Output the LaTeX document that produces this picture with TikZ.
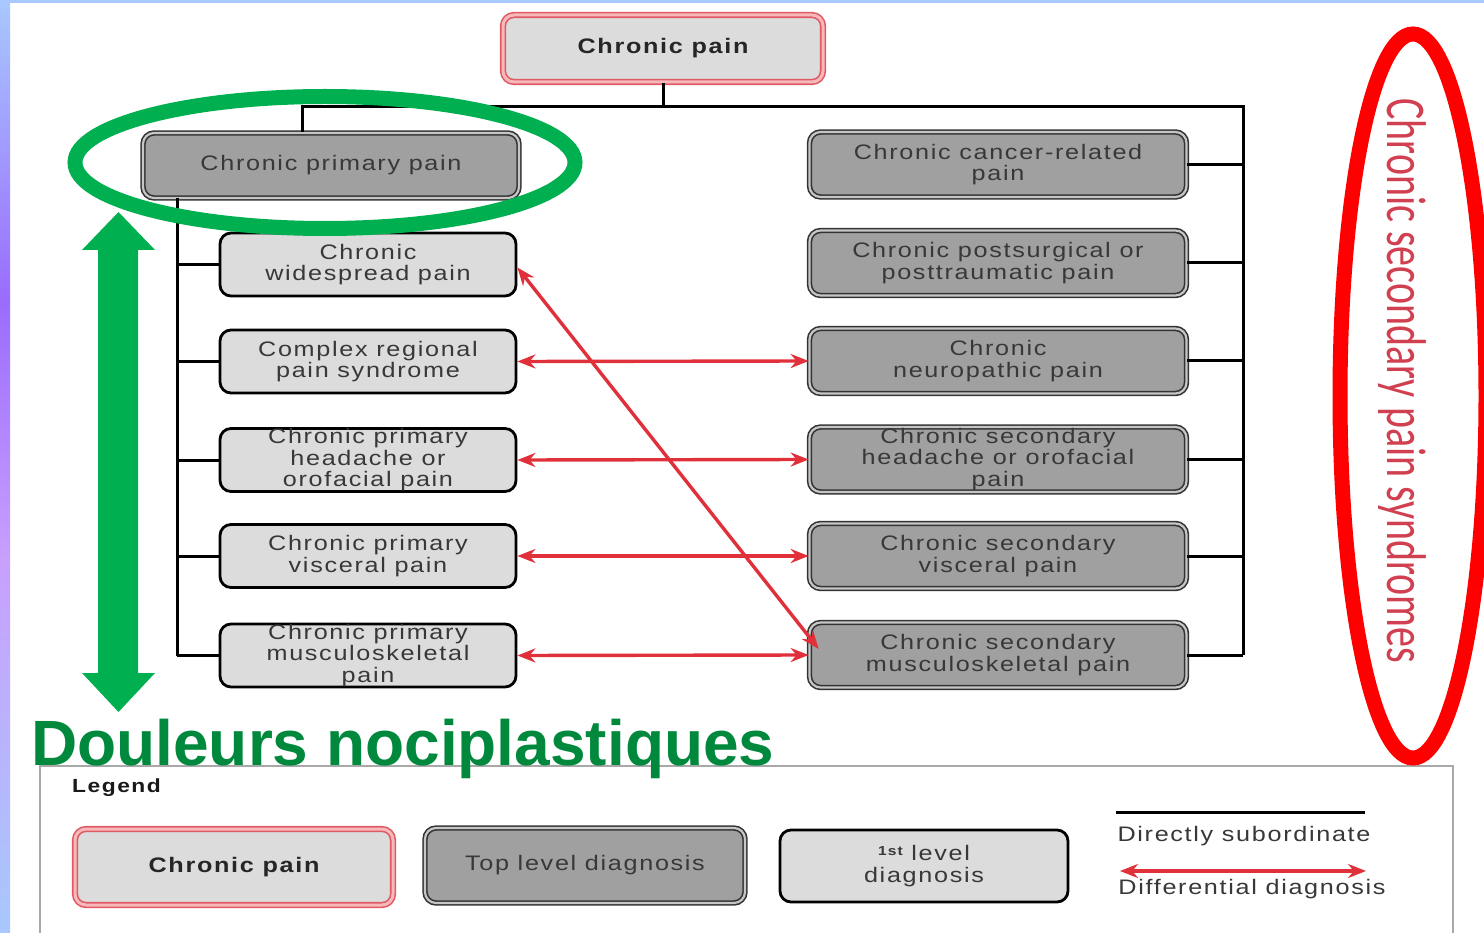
\documentclass[tikz,border=0pt]{standalone}
\usepackage{fontspec}
\setmainfont{Liberation Sans}
\newfontfamily\boxfont[LetterSpace=8,FakeStretch=1.2]{Liberation Sans}
\newfontfamily\calfont{Carlito}
\usetikzlibrary{arrows.meta,shapes.geometric}
\definecolor{lgray}{HTML}{DCDCDC}
\definecolor{dgray}{HTML}{A0A0A0}
\definecolor{txtgray}{HTML}{383838}
\definecolor{redline}{HTML}{E0303A}
\definecolor{pbord}{HTML}{E05A64}
\definecolor{pinkgap}{HTML}{F7B8BC}
\definecolor{grn}{HTML}{00B050}
\definecolor{grntxt}{HTML}{00893C}
\definecolor{vred}{HTML}{D04050}
\definecolor{ellred}{HTML}{FF0000}
\definecolor{stripblue}{HTML}{A8C8FF}
\definecolor{strippurple}{HTML}{9A6CFF}
\definecolor{striplilac}{HTML}{C8A0FF}
\definecolor{legline}{HTML}{A8A8A8}
\begin{document}
\begin{tikzpicture}[x=1pt,y=-1pt,
  boxtxt/.style={font=\boxfont\fontsize{21}{21.5}\selectfont, text=txtgray, align=center},
  rootbox/.style={draw=pbord, double=pinkgap, double distance=3pt, line width=1.6pt, fill=lgray, rounded corners=11pt, inner sep=0pt, font=\boxfont\bfseries\fontsize{21}{22}\selectfont, text=black!85},
  topbox/.style={draw=black!80, double=gray!45, double distance=2.2pt, line width=1.6pt, fill=dgray, rounded corners=11pt, inner sep=0pt, boxtxt},
  firstbox/.style={draw=black, line width=2.8pt, fill=lgray, rounded corners=11pt, inner sep=0pt, boxtxt},
  sub/.style={draw=black, line width=3pt},
  diff/.style={draw=redline, line width=3.4pt, {Stealth[length=18pt,width=14pt]}-{Stealth[length=18pt,width=14pt]}},
  lefts/.style={firstbox, minimum width=296pt, minimum height=63pt},
  rights/.style={topbox, minimum width=377pt, minimum height=65pt},
  legtxt/.style={font=\boxfont\fontsize{21}{22}\selectfont, text=txtgray},
]
% background and bounding box
\fill[white] (0,0) rectangle (1484,933);
\useasboundingbox (0,0) rectangle (1484,933);
\fill[stripblue] (0,0) rectangle (1484,3);
\shade[top color=stripblue, bottom color=strippurple] (0,0) rectangle (10,300);
\shade[top color=strippurple, bottom color=striplilac] (0,300) rectangle (10,560);
\shade[top color=striplilac, bottom color=stripblue] (0,560) rectangle (10,933);

% legend frame
\draw[legline, line width=2pt] (40,945) -- (40,766) -- (1453,766) -- (1453,945);

% main nodes
\node[rootbox, minimum width=320pt, minimum height=67pt] (cp) at (663,48.5) {Chronic pain};
\node[topbox, minimum width=376pt, minimum height=65pt] (prim) at (331,165.5) {Chronic primary pain};

\node[lefts] (wide) at (368,264.5) {Chronic\\widespread pain};
\node[lefts] (crps) at (368,361.5) {Complex regional\\pain syndrome};
\node[lefts] (phead) at (368,460) {Chronic primary\\headache or\\orofacial pain};
\node[lefts] (pvisc) at (368,556) {Chronic primary\\visceral pain};
\node[lefts] (pmsk) at (368,655.5) {Chronic primary\\musculoskeletal\\pain};

\node[rights] (canc) at (998,164.5) {Chronic cancer-related\\pain};
\node[rights] (post) at (998,263) {Chronic postsurgical or\\posttraumatic pain};
\node[rights] (neuro) at (998,361) {Chronic\\neuropathic pain};
\node[rights] (shead) at (998,459.5) {Chronic secondary\\headache or orofacial\\pain};
\node[rights] (svisc) at (998,556) {Chronic secondary\\visceral pain};
\node[rights] (smsk) at (998,655) {Chronic secondary\\musculoskeletal pain};

% subordinate lines
\coordinate (j) at (663,107);
\coordinate (lj) at (302,107);
\coordinate (rt) at (1243,107);
\coordinate (rb) at (1243,655);
\coordinate (lt) at (177,198);
\coordinate (lb) at (177,655.5);
\draw[sub] (cp.south) -- (j);
\draw[sub] (lj |- prim.north) -- (lj) -- (rt) -- (rb);
\draw[sub] (lt) -- (lb);
\foreach \n in {wide,crps,phead,pvisc,pmsk}{
  \draw[sub] (\n.west) -- (\n.west -| lt);
}
\foreach \n in {canc,post,neuro,shead,svisc,smsk}{
  \draw[sub] (\n.east) -- (\n.east -| rt);
}

% differential diagnosis arrows
\draw[diff] (crps.east) -- (neuro.west);
\draw[diff] (phead.east) -- (shead.west);
\draw[diff] (pvisc.east) -- (svisc.west);
\draw[diff] (pmsk.east) -- (smsk.west);
\draw[diff] ([yshift=-3pt]wide.east) -- ([yshift=6pt,xshift=10pt]smsk.west);

% green annotations
\draw[grn, line width=15pt] (325,162.5) ellipse [x radius=250pt, y radius=66pt];
\fill[grn] (118.5,212) -- (155,250) -- (138,250) -- (138,673) -- (155,673) -- (118.5,712) -- (82,673) -- (98,673) -- (98,250) -- (82,250) -- cycle;
\node[anchor=base west, inner sep=0pt, text=grntxt, font=\bfseries\fontsize{64}{64}\selectfont] (dn) at (31,765) {Douleurs nociplastiques};

% red annotations
\draw[ellred, line width=15pt] (1413,396) ellipse [x radius=73pt, y radius=362pt];
\node[rotate=-90, inner sep=0pt, text=vred, font=\calfont\fontsize{40}{40}\selectfont] (sec) at (1402,381) {\scalebox{1}[1.4]{Chronic secondary pain syndromes}};

% legend
\node[anchor=west, inner sep=0pt, font=\boxfont\bfseries\fontsize{19}{20}\selectfont, text=black!90] (leg) at (72,788) {Legend};
\node[rootbox, minimum width=318pt, minimum height=76pt] (l1) at (234,867) {Chronic pain};
\node[topbox, minimum width=320pt, minimum height=75pt, font=\boxfont\fontsize{21}{22}\selectfont] (l2) at (585,865.5) {Top level diagnosis};
\node[firstbox, minimum width=288pt, minimum height=72pt] (l3) at (924,866) {\raisebox{5pt}{\fontsize{13}{13}\selectfont\bfseries 1st}\ level\\diagnosis};
\coordinate (s1) at (1116,812);
\coordinate (s2) at (1365,812);
\draw[sub] (s1) -- (s2);
\node[legtxt, inner sep=0pt] (dsub) at (1244,836) {Directly subordinate};
\coordinate (d1) at (1120,871);
\coordinate (d2) at (1366,871);
\draw[diff] (d1) -- (d2);
\node[legtxt, inner sep=0pt] (ddiag) at (1252,889) {Differential diagnosis};
\end{tikzpicture}
\end{document}
